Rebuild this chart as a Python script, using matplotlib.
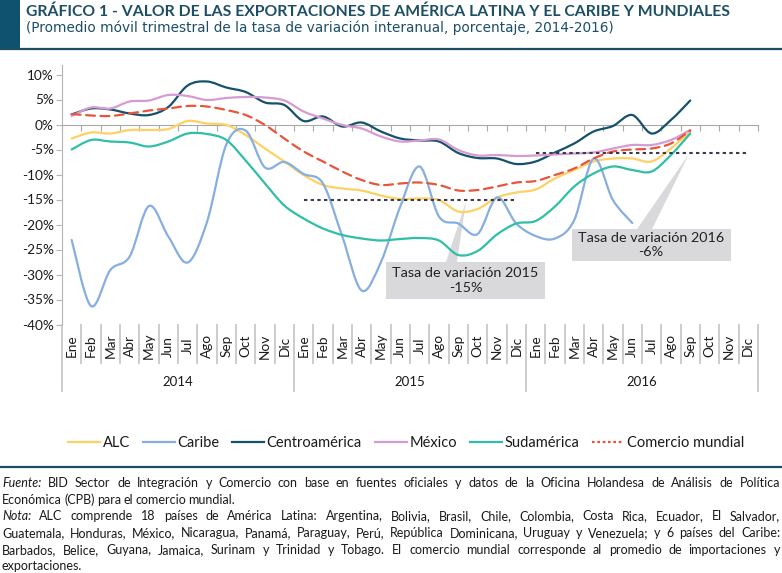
import numpy as np
import matplotlib
matplotlib.use("Agg")
import matplotlib.pyplot as plt
from matplotlib.path import Path
from matplotlib.patches import PathPatch, Rectangle, Polygon
from matplotlib.lines import Line2D

plt.rcParams['font.family'] = ['Lato', 'DejaVu Sans']

# --- data (monthly, Ene 2014 .. Sep 2016) ---
meses = ['Ene', 'Feb', 'Mar', 'Abr', 'May', 'Jun', 'Jul', 'Ago', 'Sep', 'Oct', 'Nov', 'Dic']
anios = ['2014', '2015', '2016']

alc = [-2.8, -1.6, -1.8, -1.1, -1.1, -0.9, 0.7, 0.2, -0.1, -2.1, -4.8, -7.4,
       -10.1, -12.1, -12.8, -13.2, -14.2, -14.9, -14.8, -15.1, -17.4, -16.9, -14.6, -13.6,
       -13.0, -10.8, -9.1, -7.4, -6.8, -6.8, -7.4, -4.8, -1.4]
caribe = [-23.1, -36.3, -29.1, -26.4, -16.3, -22.4, -27.6, -19.5, -4.0, -1.2, -8.6, -7.5,
          -9.9, -11.8, -22.4, -33.2, -27.5, -16.4, -8.4, -18.4, -19.8, -21.9, -14.6, -19.8,
          -22.3, -22.8, -19.1, -6.8, -15.1, -19.7]
centro = [2.0, 3.2, 3.0, 2.2, 1.9, 3.5, 7.8, 8.6, 7.4, 6.5, 4.4, 3.9,
          0.7, 1.6, -0.4, 0.4, -1.4, -2.8, -3.2, -3.4, -5.7, -6.7, -6.8, -7.9,
          -7.4, -5.6, -3.8, -1.4, -0.3, 1.9, -1.8, 0.9, 4.8]
mexico = [1.7, 3.4, 3.2, 4.6, 4.8, 5.9, 5.7, 4.9, 5.3, 5.5, 5.4, 4.8,
          2.6, 1.2, -0.1, -0.8, -2.4, -3.4, -3.2, -3.0, -5.1, -6.2, -6.1, -6.3,
          -6.2, -6.0, -5.8, -5.6, -4.8, -4.1, -4.1, -3.1, -1.1]
sudam = [-5.0, -3.1, -3.4, -3.6, -4.4, -3.4, -1.8, -1.9, -3.1, -7.2, -11.8, -16.2,
         -18.8, -20.8, -22.1, -22.8, -23.2, -22.9, -22.7, -23.2, -26.1, -25.3, -22.0, -19.8,
         -19.3, -16.4, -12.4, -9.8, -8.4, -9.1, -9.4, -6.1, -1.8]
mundial = [2.1, 1.8, 1.7, 2.2, 2.8, 3.2, 3.7, 3.6, 2.9, 1.9, -0.1, -2.8,
           -5.4, -7.4, -9.4, -11.1, -12.1, -11.8, -11.6, -12.1, -13.2, -13.1, -12.4, -11.6,
           -11.3, -10.1, -8.8, -6.8, -5.4, -5.0, -4.8, -3.8, -1.2]

tasa_2015 = -15.0
tasa_2016 = -5.6

series = [
    ('ALC', alc, '#fdd163', '-'),
    ('Caribe', caribe, '#86aee0', '-'),
    ('Centroamérica', centro, '#15516b', '-'),
    ('México', mexico, '#d69bd2', '-'),
    ('Sudamérica', sudam, '#2fbfa6', '-'),
    ('Comercio mundial', mundial, '#e8543c', '--'),
]


def smooth_path(y):
    # bezier through the points, like a spreadsheet "smoothed line"
    pts = np.column_stack([np.arange(len(y)), y]).astype(float)
    verts, codes = [pts[0]], [Path.MOVETO]
    for k in range(len(pts) - 1):
        p0 = pts[k - 1] if k > 0 else pts[k]
        p1, p2 = pts[k], pts[k + 1]
        p3 = pts[k + 2] if k + 2 < len(pts) else p2
        verts += [p1 + (p2 - p0) / 6, p2 - (p3 - p1) / 6, p2]
        codes += [Path.CURVE4] * 3
    return Path(verts, codes)


W, H = 782, 573
fig = plt.figure(figsize=(W / 100, H / 100), dpi=100)
ax = fig.add_axes([62 / W, 1 - 324.5 / H, 695.9 / W, 260 / H])
ax.set_xlim(-0.5, 35.5)
ax.set_ylim(-40, 12)

grey = '#a8a8a8'
ax.spines[['top', 'right']].set_visible(False)
ax.spines['left'].set_color('#b4b4b4')
ax.spines['bottom'].set_position(('data', 0))
ax.spines['bottom'].set_color(grey)
ax.set_xticks(np.arange(-0.5, 36, 1))
ax.tick_params(axis='x', direction='out', length=4, color=grey, labelbottom=False)
ax.set_yticks(range(-40, 11, 5))
ax.set_yticklabels([f'{v}%' for v in range(-40, 11, 5)])
ax.tick_params(axis='y', length=4, color='#b4b4b4', labelsize=9.8, labelcolor='#1a1a1a', pad=2)

# callout boxes + pointers
box_c = '#d9d9dc'
ax.add_patch(Polygon([(19.36, -27.5), (19.93, -27.5), (20.4, -15.4)], fc=box_c, ec='none', zorder=1))
ax.add_patch(Rectangle((16.26, -34.9), 8.23, 7.4, fc=box_c, ec='none', zorder=1))
ax.add_patch(Polygon([(29.24, -20.96), (30.02, -20.96), (31.95, -5.8)], fc=box_c, ec='none', zorder=1))
ax.add_patch(Rectangle((25.86, -27.24), 8.23, 6.28, fc=box_c, ec='none', zorder=1))
ax.text(20.37, -31.2, 'Tasa de variación 2015\n-15%', ha='center', va='center',
        fontsize=10.4, color='#222222', linespacing=1.25, zorder=2)
ax.text(29.97, -24.1, 'Tasa de variación 2016\n-6%', ha='center', va='center',
        fontsize=10.4, color='#222222', linespacing=1.15, zorder=2)

# average lines
ax.hlines(tasa_2015, 12, 23, colors='#3b3b4b', linestyles=(0, (1.6, 1.6)), lw=1.5, zorder=4)
ax.hlines(tasa_2016, 24, 35, colors='#3b3b4b', linestyles=(0, (1.6, 1.6)), lw=1.5, zorder=4)

handles = []
for name, vals, col, ls in series:
    style = (0, (4, 2.5)) if ls == '--' else '-'
    ax.add_patch(PathPatch(smooth_path(vals), fill=False, ec=col, lw=1.6,
                           ls=style, zorder=3, capstyle='round'))
    hstyle = (0, (1.2, 1.2)) if ls == '--' else '-'
    handles.append(Line2D([], [], color=col, lw=1.6, ls=hstyle))

# category axis at the bottom
xt = ax.get_xaxis_transform()
for i in range(36):
    ax.text(i, -0.083, meses[i % 12], rotation=90, ha='center', va='center',
            fontsize=9.8, color='#1a1a1a', transform=xt)
for b in np.arange(-0.5, 36, 1):
    low = -0.256 if (b + 0.5) % 12 == 0 else -0.148
    ax.plot([b, b], [0, low], color='#c8c8c8', lw=1.3, transform=xt, clip_on=False)
for k, a in enumerate(anios):
    ax.text(12 * k + 5.5, -0.221, a, ha='center', va='center', fontsize=9.5,
            color='#1a1a1a', transform=xt)

# legend
fig.legend(handles, [s[0] for s in series], loc='center', bbox_to_anchor=(406 / W, 1 - 443 / H),
           ncol=6, frameon=False, fontsize=10.5, handlelength=2.2, handletextpad=0.15,
           columnspacing=0.9, labelcolor='#1a1a1a')

# header
teal = '#1c4e66'
fig.add_artist(Rectangle((0, 1 - 48.5 / H), 20 / W, 48.5 / H, transform=fig.transFigure,
                         fc='#0f5270', ec='none'))
fig.add_artist(Line2D([0, 1], [1 - 49.3 / H] * 2, transform=fig.transFigure, color=teal, lw=1.6))
fig.add_artist(Line2D([0, 1], [1 - 466.7 / H] * 2, transform=fig.transFigure, color=teal, lw=1.6))
fig.text(26 / W, 1 - 16 / H, 'GRÁFICO 1 - VALOR DE LAS EXPORTACIONES DE AMÉRICA LATINA Y EL CARIBE Y MUNDIALES',
         fontsize=11.35, fontweight='bold', color=teal, va='baseline')
fig.text(26 / W, 1 - 32 / H, '(Promedio móvil trimestral de la tasa de variación interanual, porcentaje, 2014-2016)',
         fontsize=9.85, color=teal, va='baseline', family=['DejaVu Sans'])

# footnotes, justified word by word
notas = [
    ([('Fuente:', 'italic'), ('BID Sector de Integración y Comercio con base en fuentes oficiales y datos de la '
                              'Oficina Holandesa de Análisis de Política', 'normal')], True),
    ([('Económica (CPB) para el comercio mundial.', 'normal')], False),
    ([('Nota:', 'italic'), ('ALC comprende 18 países de América Latina: Argentina, Bolivia, Brasil, Chile, '
                            'Colombia, Costa Rica, Ecuador, El Salvador,', 'normal')], True),
    ([('Guatemala, Honduras, México, Nicaragua, Panamá, Paraguay, Perú, República Dominicana, Uruguay y '
       'Venezuela; y 6 países del Caribe:', 'normal')], True),
    ([('Barbados, Belice, Guyana, Jamaica, Surinam y Trinidad y Tobago. El comercio mundial corresponde al '
       'promedio de importaciones y', 'normal')], True),
    ([('exportaciones.', 'normal')], False),
]
renderer = fig.canvas.get_renderer()
fs = 9.0
x0, x1 = 2, 780
for n, (parts, just) in enumerate(notas):
    y = 1 - (487 + 16.7 * n) / H
    words = [(w, st) for txt, st in parts for w in txt.split()]
    objs = [fig.text(0, y, w, fontsize=fs, style=st, color='#1a1a1a', va='baseline') for w, st in words]
    widths = [t.get_window_extent(renderer).width for t in objs]
    gap = (x1 - x0 - sum(widths)) / (len(objs) - 1) if just else fs * 0.26
    x = x0
    for t, w in zip(objs, widths):
        t.set_x(x / W)
        x += w + gap

fig.savefig('out.png', dpi=100)
